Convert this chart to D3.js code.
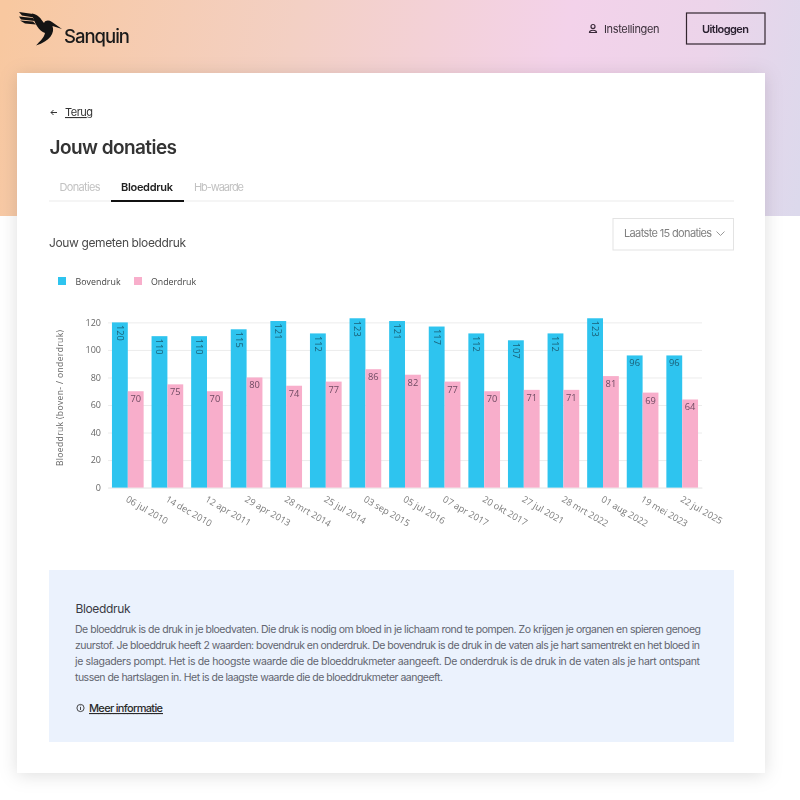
<!DOCTYPE html>
<html><head><meta charset="utf-8">
<script src="https://cdn.jsdelivr.net/npm/d3@7"></script>
<style>html,body{margin:0;padding:0;background:#fff}svg{display:block;filter:blur(0.35px)}</style>
</head><body><div id="c"></div>
<script>
const dates = ["06 jul 2010","14 dec 2010","12 apr 2011","29 apr 2013","28 mrt 2014","25 jul 2014","03 sep 2015","05 jul 2016","07 apr 2017","20 okt 2017","27 jul 2021","28 mrt 2022","01 aug 2022","19 mei 2023","22 jul 2025"];
const bovendruk = [120,110,110,115,121,112,123,121,117,112,107,112,123,96,96];
const onderdruk = [70,75,70,80,74,77,86,82,77,70,71,71,81,69,64];
const seriesNames = ["Bovendruk","Onderdruk"];
const seriesColors = ["#2ec4ef","#f8aecb"];
const yTicks = [0,20,40,60,80,100,120];
const paragraph = [
 "De bloeddruk is de druk in je bloedvaten. Die druk is nodig om bloed in je lichaam rond te pompen. Zo krijgen je organen en spieren genoeg",
 "zuurstof. Je bloeddruk heeft 2 waarden: bovendruk en onderdruk. De bovendruk is de druk in de vaten als je hart samentrekt en het bloed in",
 "je slagaders pompt. Het is de hoogste waarde die de bloeddrukmeter aangeeft. De onderdruk is de druk in de vaten als je hart ontspant",
 "tussen de hartslagen in. Het is de laagste waarde die de bloeddrukmeter aangeeft."
];
const UI = "Inter, 'Noto Sans', sans-serif";
const CH = "'Open Sans', sans-serif";
const svg = d3.select("#c").append("svg").attr("width",800).attr("height",800).attr("viewBox","0 0 800 800");
const defs = svg.append("defs");
const g = defs.append("linearGradient").attr("id","hdr").attr("gradientUnits","userSpaceOnUse")
  .attr("x1",0).attr("y1",40).attr("x2",800).attr("y2",200);
[[0,"#f8c8a0"],[.35,"#f3d0c4"],[.68,"#f3d2ea"],[.85,"#ecd4ea"],[1,"#dcd9ec"]].forEach(s=>g.append("stop").attr("offset",s[0]).attr("stop-color",s[1]));
const f = defs.append("filter").attr("id","sh").attr("x","-10%").attr("y","-10%").attr("width","120%").attr("height","120%");
f.append("feDropShadow").attr("dx",0).attr("dy",2).attr("stdDeviation",9).attr("flood-color","#000").attr("flood-opacity",.13);

function T(x,y,s,o={}){
  const t=svg.append("text").attr("x",x).attr("y",y).text(s)
   .attr("font-family",o.font||UI).attr("font-size",o.size||11).attr("fill",o.fill||"#333")
   .attr("font-weight",o.weight||400);
  if(o.len){t.attr("textLength",o.len).attr("lengthAdjust","spacing");}
  if(o.ul)t.attr("text-decoration","underline");
  return t;
}
svg.append("rect").attr("width",800).attr("height",216).attr("fill","url(#hdr)");
svg.append("rect").attr("x",17).attr("y",73).attr("width",748).attr("height",700).attr("fill","#fff").attr("filter","url(#sh)");

// logo
const logo = svg.append("g").attr("fill","#141414");
logo.append("path").attr("d","M19 12 L33 14 L37 18 L22 15.5 Z M19 16.5 L33 18 L35 21 L21 19.5 Z M20 20.5 L33 21.5 L36 24.5 L25 23.5 Z");
logo.append("path").attr("d","M32 13.5 C38 14 41 19 44 23 C45.5 20 49 20 52 22 L62 29 L52.5 26 C55 33 50 41 36 45.5 C40 41 44 38 45 33 C39 31 34 23 32 13.5 Z");
T(64,43,"Sanquin",{size:18.5,weight:500,fill:"#1a1a1a",len:66});

// header right
const user = svg.append("g").attr("fill","none").attr("stroke","#3a2a3a").attr("stroke-width",1.2);
user.append("circle").attr("cx",593).attr("cy",26.5).attr("r",2);
user.append("path").attr("d","M589.5 32.5 C589.5 29.5 596.5 29.5 596.5 32.5 Z");
T(604,32.5,"Instellingen",{size:11,fill:"#3a2f3a",len:55.5});
svg.append("rect").attr("x",686.5).attr("y",13).attr("width",78.5).attr("height",31).attr("fill","none").attr("stroke","#33262f").attr("stroke-width",1.2);
T(702,32.5,"Uitloggen",{size:11,weight:600,fill:"#2a2030",len:47});

// page heading
svg.append("path").attr("d","M57 112.5 H51 M53.5 110 L51 112.5 L53.5 115").attr("fill","none").attr("stroke","#333").attr("stroke-width",1);
T(65,116,"Terug",{size:11,fill:"#333",ul:true,len:28});
T(49.5,154,"Jouw donaties",{size:19,weight:600,fill:"#333",len:127.5});
T(59.5,191,"Donaties",{size:11,fill:"#c2c2c2",len:41});
T(121,191,"Bloeddruk",{size:11,weight:600,fill:"#222",len:52});
T(194,191,"Hb-waarde",{size:11,fill:"#c2c2c2",len:50});
svg.append("rect").attr("x",49).attr("y",200.5).attr("width",685).attr("height",1).attr("fill","#ececec");
svg.append("rect").attr("x",111).attr("y",200).attr("width",73).attr("height",2).attr("fill","#111");
T(49,247,"Jouw gemeten bloeddruk",{size:12,fill:"#4a4a4a",len:137});
svg.append("rect").attr("x",613).attr("y",218.5).attr("width",120.5).attr("height",31.5).attr("fill","#fff").attr("stroke","#e3e3e3").attr("stroke-width",1);
T(624,237,"Laatste 15 donaties",{size:11,fill:"#808080",len:88});
svg.append("path").attr("d","M716.5 231.5 L720.5 235.5 L724.5 231.5").attr("fill","none").attr("stroke","#999").attr("stroke-width",1);

// legend
const legX=[58,134], legTX=[75.5,151];
seriesNames.forEach((n,i)=>{
  svg.append("rect").attr("x",legX[i]).attr("y",277).attr("width",8).attr("height",8).attr("fill",seriesColors[i]);
  T(legTX[i],284.5,n,{font:CH,size:8.8,fill:"#444",len:45});
});

// chart
const x0 = d3.scaleBand().domain(dates).range([108,702]).paddingInner(0.2).paddingOuter(0.1);
const x1 = d3.scaleBand().domain(seriesNames).range([0,x0.bandwidth()]);
const y = d3.scaleLinear().domain([0,120]).range([487.6,322.4]);
const yAxis = svg.append("g").attr("transform","translate(108,0)")
  .call(d3.axisLeft(y).tickValues(yTicks).tickSize(-594).tickPadding(7));
yAxis.select(".domain").remove();
yAxis.selectAll("line").attr("stroke","#ececec");
yAxis.selectAll("text").attr("font-family",CH).attr("font-size",9).attr("fill","#666");
const xAxis = svg.append("g").attr("transform","translate(0,487.6)")
  .call(d3.axisBottom(x0).tickSize(0).tickPadding(0));
xAxis.select(".domain").attr("stroke","#ececec");
xAxis.selectAll("text").attr("font-family",CH).attr("font-size",9.2).attr("fill","#7a7a7a")
  .attr("text-anchor","start").attr("dy",0).attr("y",0)
  .attr("transform","translate(-2.5,13.5) rotate(30)");
T(0,0,"Bloeddruk (boven- / onderdruk)",{font:CH,size:8.5,fill:"#666",len:136})
  .attr("transform","translate(63,466) rotate(-90)");

const groups = svg.selectAll("g.bars").data(dates).join("g").attr("class","bars")
  .attr("transform",d=>`translate(${x0(d)},0)`);
groups.append("rect").attr("x",x1(seriesNames[0])).attr("width",x1.bandwidth())
  .attr("y",(d,i)=>y(bovendruk[i])).attr("height",(d,i)=>y(0)-y(bovendruk[i])).attr("fill",seriesColors[0]);
groups.append("rect").attr("x",x1(seriesNames[1])).attr("width",x1.bandwidth())
  .attr("y",(d,i)=>y(onderdruk[i])).attr("height",(d,i)=>y(0)-y(onderdruk[i])).attr("fill",seriesColors[1]);
// value labels
groups.append("text").text((d,i)=>bovendruk[i])
  .attr("font-family",CH).attr("font-size",9.3).attr("fill","#1a6078")
  .attr("text-anchor",(d,i)=>bovendruk[i]<100?"middle":"start")
  .attr("transform",(d,i)=>{
    const cx=x1(seriesNames[0])+x1.bandwidth()/2, t=y(bovendruk[i]);
    return bovendruk[i]<100?`translate(${cx},${t+10.5})`:`translate(${cx-3},${t+2.5}) rotate(90)`;
  });
groups.append("text").text((d,i)=>onderdruk[i])
  .attr("font-family",CH).attr("font-size",9.3).attr("fill","#6f4a62").attr("text-anchor","middle")
  .attr("x",x1(seriesNames[1])+x1.bandwidth()/2)
  .attr("y",(d,i)=>y(onderdruk[i])+11);

// info box
svg.append("rect").attr("x",49).attr("y",570).attr("width",685).attr("height",172).attr("fill","#ebf2fd");
T(75.5,613,"Bloeddruk",{size:12,fill:"#3a3a44",len:55});
const paraY=[633,649,665,681], paraLen=[626,625,625,368];
paragraph.forEach((l,i)=>T(75,paraY[i],l,{size:10.5,fill:"#62656f",len:paraLen[i]}));
const info=svg.append("g").attr("fill","none").attr("stroke","#333").attr("stroke-width",.9);
info.append("circle").attr("cx",80.5).attr("cy",708).attr("r",3.6);
info.append("path").attr("d","M80.5 707 V710 M80.5 705.6 V706.2");
T(89,712,"Meer informatie",{size:11,fill:"#2a2a2a",ul:true,weight:500,len:74});
</script></body></html>
